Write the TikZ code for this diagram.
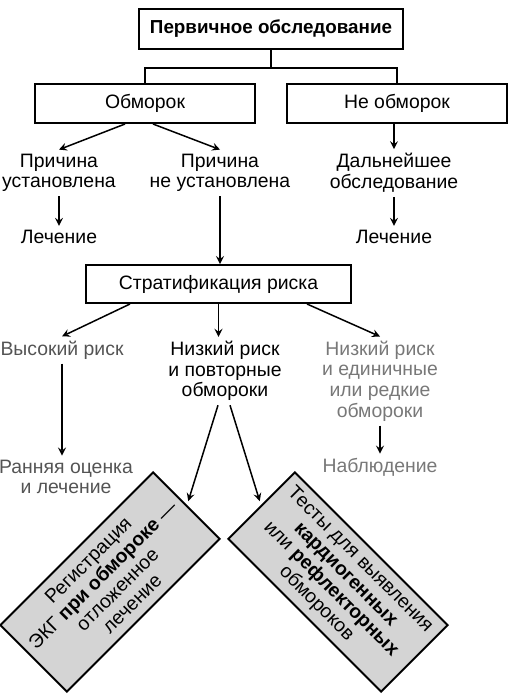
\documentclass[tikz,border=0pt]{standalone}
\usepackage{fontspec}
\setmainfont{Liberation Sans}
\usepackage{xcolor}
\usetikzlibrary{calc, positioning}
\definecolor{boxgray}{gray}{0.83}
\definecolor{riskgray}{gray}{0.33}
\definecolor{lightrisk}{gray}{0.47}

\begin{document}
\begin{tikzpicture}[x=0.5pt, y=-0.5pt, >=stealth,
    every node/.style={font=\fontsize{9.7}{10.3}\selectfont},
    box/.style={draw, line width=1pt, minimum height=19.5pt, minimum width=110pt},
    label/.style={align=center, inner sep=2pt},
    tilted/.style={draw, line width=1pt, fill=boxgray, minimum width=108pt, minimum height=47pt, align=center, inner sep=1pt},
    link/.style={->, line width=0.75pt}]
  \useasboundingbox (0,0) rectangle (531,697);
  \node[box, minimum width=132pt, minimum height=20pt, font=\fontsize{9.4}{10.3}\selectfont\bfseries] (exam) at (271,29) {Первичное обследование};
  \node[box] (faint) at (145,103.5) {Обморок};
  \node[box] (nofaint) at (397,103.5) {Не обморок};
  \draw[line width=0.75pt] (exam.south) -- ++(0,18) coordinate (fork);
  \draw[line width=0.75pt] (faint.north) |- (fork) -| (nofaint.north);
  \node[label] (known) at (59,173) {Причина\\установлена};
  \node[label] (unknown) at (220,173) {Причина\\не установлена};
  \node[label] (further) at (394,173) {Дальнейшее\\обследование};
  \node[label] (treatA) at (59,237) {Лечение};
  \node[label] (treatB) at (394,237) {Лечение};
  \draw[link] ($(faint.south)+(-20,0)$) -- (known.north);
  \draw[link] ($(faint.south)+(8,0)$) -- (unknown.north);
  \draw[link] (further.north |- nofaint.south) -- (further.north);
  \draw[link] (known) -- (treatA);
  \draw[link] (further) -- (treatB);
  \node[box, minimum width=132.5pt, minimum height=19pt] (strat) at (218.5,284) {Стратификация риска};
  \draw[link] (unknown) -- (unknown |- strat.north);
  \node[label, text=riskgray] (high) at (62,350) {Высокий риск};
  \node[label] (lowrep) at (225,371) {Низкий риск\\и повторные\\обмороки};
  \node[label, text=lightrisk] (lowrare) at (380,381) {Низкий риск\\и единичные\\или редкие\\обмороки};
  \draw[link] ($(strat.south)+(-88.5,0)$) -- (high.north);
  \draw[link] (strat.south) -- (strat.south |- lowrep.north);
  \draw[link] ($(strat.south)+(88.5,0)$) -- (lowrare.north);
  \node[label, text=riskgray] (early) at (66,477) {Ранняя оценка\\и лечение};
  \node[label, text=lightrisk] (watch) at (380,467) {Наблюдение};
  \draw[link] (high) -- (high |- early.north);
  \draw[link] (lowrare) -- (watch);
  % tilted boxes at the bottom
  \node[tilted, rotate=45] (ecg) at (110,582) {Регистрация\\ЭКГ \textbf{при обмороке} —\\отложенное\\лечение};
  \node[tilted, rotate=-45] (tests) at (338,582) {Тесты для выявления\\\textbf{кардиогенных}\\или \textbf{рефлекторных}\\обмороков};
  \draw[link, shorten >=2pt] ($(lowrep.south)+(-7,0)$) -- (ecg.east);
  \draw[link, shorten >=2pt] ($(lowrep.south)+(5,0)$) -- (tests.west);
\end{tikzpicture}
\end{document}
